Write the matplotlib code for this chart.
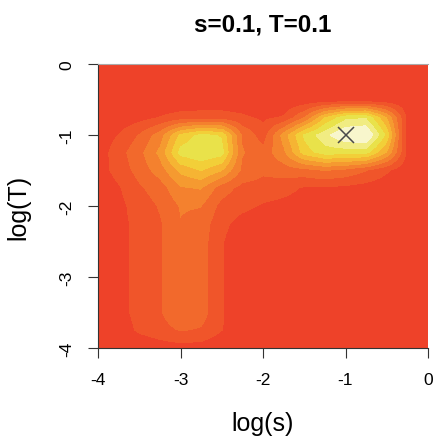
import matplotlib
matplotlib.use('Agg')
import matplotlib.pyplot as plt
import numpy as np
from matplotlib.colors import ListedColormap, BoundaryNorm

plt.rcParams['font.family'] = ['Liberation Sans', 'DejaVu Sans']

# grid (log10 scale), rows follow log_T
log_s = [-4, -3.75, -3.5, -3.25, -3, -2.75, -2.5, -2.25, -2, -1.75, -1.5, -1.25, -1, -0.75, -0.5, -0.25, 0]
log_T = [0, -0.25, -0.5, -0.75, -1, -1.25, -1.5, -1.75, -2, -2.25, -2.5, -2.75, -3, -3.25, -3.5, -3.75, -4]

# colour level of the likelihood surface at each grid point
_bg = [-0.3] * 17
_stem = [-0.3, 0.15, 0.85, 1.4, 2.4, 2.0, 0.6, -0.2, -0.3, -0.3, -0.3, -0.3, -0.3, -0.3, -0.3, -0.3, -0.3]
level = [
    _bg,
    _bg,
    _bg,
    [-0.3, -0.2, 0.1, 0.55, 0.9, 1.0, 1.0, 0.7, 0.3, 0.6, 2.5, 5.5, 7.2, 7.4, 4.5, 0.3, -0.3],
    [-0.2, 0.55, 1.6, 3.0, 5.8, 6.8, 6.4, 2.4, 1.0, 4.0, 6.7, 8.2, 9.6, 9.8, 6.3, 0.0, -0.3],
    [-0.1, 1.1, 2.2, 3.8, 6.9, 7.4, 7.0, 2.6, 1.9, 3.3, 6.0, 7.0, 6.9, 6.9, 4.5, 0.3, -0.3],
    [0.0, 0.9, 1.9, 3.0, 4.8, 5.6, 4.6, 2.3, 1.7, 2.0, 2.2, 2.6, 2.3, 1.6, 0.7, -0.2, -0.3],
    [-0.2, 0.4, 1.35, 2.0, 3.4, 3.6, 2.0, 1.2, 1.1, 0.85, 0.4, 0.4, 0.25, 0.05, -0.2, -0.3, -0.3],
    [-0.3, 0.2, 1.0, 1.6, 2.6, 2.55, 1.2, 0.8, 0.4, 0.2, 0.05, -0.2, -0.3, -0.3, -0.3, -0.3, -0.3],
    [-0.3, 0.15, 0.85, 1.4, 2.45, 2.1, 0.8, 0.1, -0.2, -0.3, -0.3, -0.3, -0.3, -0.3, -0.3, -0.3, -0.3],
    _stem,
    _stem,
    _stem,
    _stem,
    _stem,
    [-0.3, -0.1, 0.7, 1.1, 1.6, 1.4, 0.55, -0.2, -0.3, -0.3, -0.3, -0.3, -0.3, -0.3, -0.3, -0.3, -0.3],
    [-0.3, -0.3, -0.3, 0.0, 0.1, 0.05, -0.3, -0.3, -0.3, -0.3, -0.3, -0.3, -0.3, -0.3, -0.3, -0.3, -0.3],
]

best_s = [-1]
best_T = [-1]

ticks = [-4, -3, -2, -1, 0]
tick_labels = ['-4', '-3', '-2', '-1', '0']

colors = ['#EE4229', '#F0552A', '#F2692C', '#F4812E', '#F59A30',
          '#F6B433', '#F2CF38', '#E9E24A', '#F1EC82', '#F8F6CC']
bounds = [-1, 0.5, 1.5, 2.5, 3.5, 4.5, 5.5, 6.5, 7.5, 8.5, 11]

fig = plt.figure(figsize=(4.33, 4.39), dpi=100)
ax = fig.add_axes([98 / 433, 90 / 439, 330 / 433, 284 / 439])

# half a grid step around the outer points so that cell centres sit on the grid
hs = (log_s[1] - log_s[0]) / 2
ht = (log_T[0] - log_T[1]) / 2
ax.imshow(np.array(level), cmap=ListedColormap(colors), norm=BoundaryNorm(bounds, len(colors)),
          extent=[log_s[0] - hs, log_s[-1] + hs, log_T[-1] - ht, log_T[0] + ht],
          origin='upper', interpolation='bilinear', interpolation_stage='data', aspect='auto')
ax.plot(best_s, best_T, linestyle='none', marker='x', ms=11.5, mew=1.1, color='#4a4a4a')

ax.set_xlim(-4, 0)
ax.set_ylim(-4, 0)
ax.set_xticks(ticks)
ax.set_xticklabels(tick_labels)
ax.set_yticks(ticks)
ax.set_yticklabels(tick_labels, rotation=90, va='center')
ax.tick_params(direction='out', length=7, width=0.8, labelsize=12.5, pad=10, color='#333333')

ax.spines['right'].set_visible(False)
ax.spines['top'].set_color('#aaaaaa')
ax.spines['top'].set_linewidth(0.8)
for side in ['left', 'bottom']:
    ax.spines[side].set_color('#333333')
    ax.spines[side].set_linewidth(0.8)

ax.set_xlabel('log(s)', fontsize=18)
ax.xaxis.set_label_coords(0.5, -0.222)
ax.set_ylabel('log(T)', fontsize=18)
ax.yaxis.set_label_coords(-0.206, 0.5)

fig.text(263 / 433, 1 - 25 / 439, 's=0.1, T=0.1', ha='center', va='center',
         fontsize=17.5, fontweight='bold')

fig.savefig('out.png', dpi=100)
